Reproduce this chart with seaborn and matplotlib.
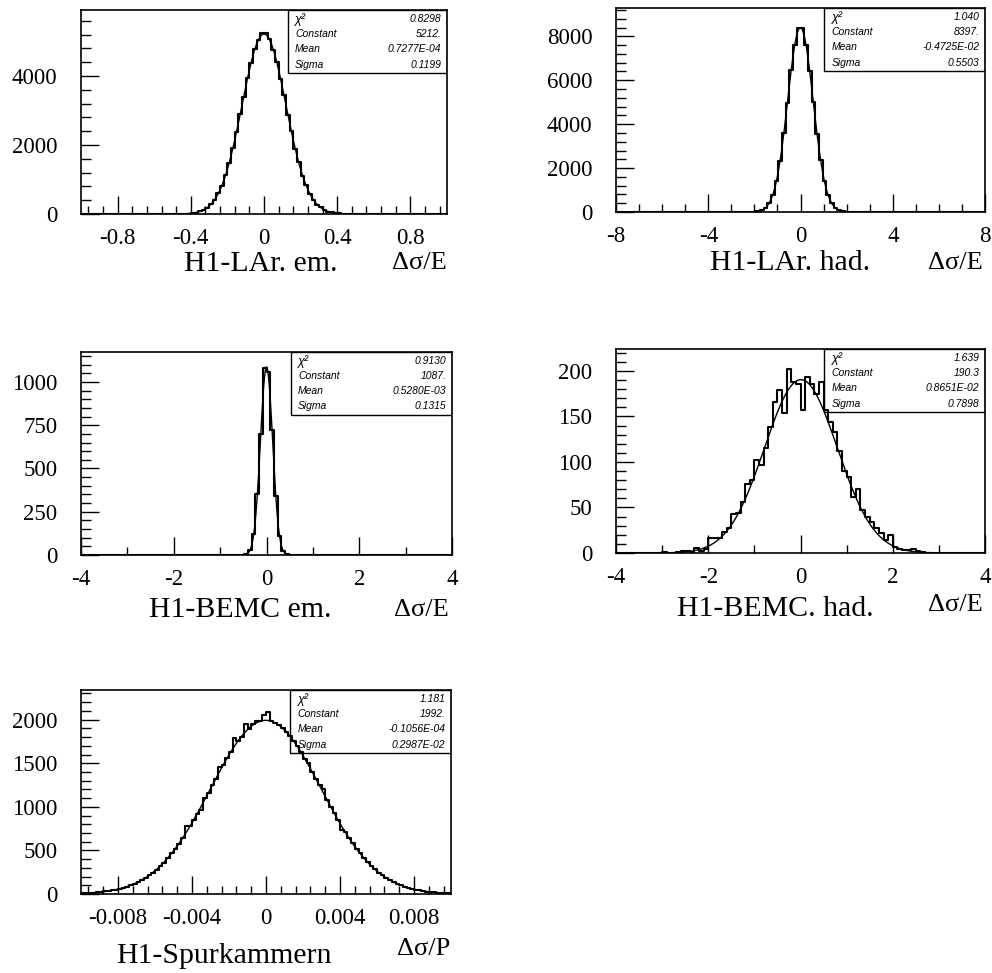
import numpy as np
import pandas as pd
import matplotlib
matplotlib.use("Agg")
import matplotlib.pyplot as plt
import seaborn as sns
from matplotlib.ticker import MultipleLocator, FuncFormatter
from matplotlib.patches import Rectangle

sns.set_theme(style="ticks")
plt.rcParams["font.family"] = ["Liberation Serif", "DejaVu Serif"]
plt.rcParams["axes.unicode_minus"] = False
plt.rcParams["text.color"] = "black"

# ---------------- data: bin contents and fit results ----------------
# H1-LAr. em.: 100 bins on [-1, 1]
lar_em_counts = [0] * 26 + [
    3, 5, 9, 14, 28, 43, 76, 121, 180, 285, 405, 600, 820, 1135, 1470, 1925,
    2370, 2910, 3400, 3950, 4380, 4790, 5040, 5250,
    5230, 5060, 4760, 4410, 3920, 3440, 2880, 2395, 1895, 1500, 1110, 835,
    585, 420, 275, 190, 115, 72, 47, 25, 16, 7, 4, 2] + [0] * 26
lar_em_fit = {"chi2": "0.8298", "Constant": "5212.", "Mean": "0.7277E-04", "Sigma": "0.1199"}
lar_em_par = (5212.0, 0.7277e-04, 0.1199)

# H1-LAr. had.: 100 bins on [-8, 8]
lar_had_counts = [0] * 35 + [
    1, 4, 12, 30, 82, 180, 405, 770, 1420, 2320, 3590, 4980, 6480, 7600, 8380,
    8400, 7620, 6430, 5010, 3550, 2350, 1400, 785, 390, 188, 77, 32, 10, 3, 1] + [0] * 35
lar_had_fit = {"chi2": "1.040", "Constant": "8397.", "Mean": "-0.4725E-02", "Sigma": "0.5503"}
lar_had_par = (8397.0, -0.4725e-02, 0.5503)

# H1-BEMC em.: 100 bins on [-4, 4]
bemc_em_counts = [0] * 43 + [
    1, 4, 28, 120, 350, 700, 1080,
    1060, 720, 340, 110, 25, 3, 1] + [0] * 43
bemc_em_fit = {"chi2": "0.9130", "Constant": "1087.", "Mean": "0.5280E-03", "Sigma": "0.1315"}
bemc_em_par = (1087.0, 0.5280e-03, 0.1315)

# H1-BEMC. had.: 80 bins on [-4, 4]
bemc_had_counts = [0] * 10 + [
    1, 0, 0, 1, 2, 2, 1, 6, 2, 4, 17, 17, 16, 23, 28, 43, 44, 56, 76, 80,
    102, 97, 115, 138, 166, 179, 154, 202, 188, 186,
    157, 193, 186, 175, 188, 157, 144, 133, 112, 90, 84, 62, 70, 47, 40, 34,
    27, 22, 14, 20, 7, 4, 3, 3, 4, 2, 1, 0, 0, 0] + [0] * 10
bemc_had_fit = {"chi2": "1.639", "Constant": "190.3", "Mean": "0.8651E-02", "Sigma": "0.7898"}
bemc_had_par = (190.3, 0.8651e-02, 0.7898)

# H1-Spurkammern: 100 bins on [-0.01, 0.01]
spur_counts = [
    8, 10, 13, 16, 19, 23, 29, 35, 42, 50, 60, 72, 85, 100, 118, 138, 161, 187,
    220, 246, 278, 321, 360, 412, 470, 518, 570, 640, 785, 777, 845, 923, 960,
    1100, 1161, 1250, 1323, 1455, 1475, 1560, 1627, 1785, 1760, 1805, 1945,
    1890, 1945, 1990, 1982, 2048,
    2085, 1985, 1960, 1940, 1900, 1855, 1815, 1750, 1700, 1625, 1550, 1500,
    1400, 1320, 1245, 1210, 1080, 1000, 925, 850, 735, 710, 640, 580, 515, 465,
    410, 368, 320, 283, 245, 216, 186, 162, 137, 119, 100, 86, 71, 61, 50, 41,
    35, 28, 24, 19, 15, 13, 10, 8]
spur_fit = {"chi2": "1.181", "Constant": "1992.", "Mean": "-0.1056E-04", "Sigma": "0.2987E-02"}
spur_par = (1992.0, -0.1056e-04, 0.2987e-02)

panel_names = ["H1-LAr. em.", "H1-LAr. had.", "H1-BEMC em.", "H1-BEMC. had.", "H1-Spurkammern"]
panel_units = ["\u0394\u03c3/E", "\u0394\u03c3/E", "\u0394\u03c3/E", "\u0394\u03c3/E", "\u0394\u03c3/P"]

# ---------------- layout / axis settings ----------------
W, H = 992, 973
panels = [
    dict(counts=lar_em_counts, fit=lar_em_fit, par=lar_em_par, lo=-1.0, hi=1.0, ytop=5910,
         box=(81, 10, 447, 214), xmaj=0.4, xmin=0.08, ymaj=2000, ymin=400,
         name_xy=(0.49, -0.28), unit_xy=(1.0, -0.272)),
    dict(counts=lar_had_counts, fit=lar_had_fit, par=lar_had_par, lo=-8.0, hi=8.0, ytop=9290,
         box=(616, 8, 985, 212), xmaj=4, xmin=1, ymaj=2000, ymin=400,
         name_xy=(0.472, -0.285), unit_xy=(0.995, -0.28)),
    dict(counts=bemc_em_counts, fit=bemc_em_fit, par=bemc_em_par, lo=-4.0, hi=4.0, ytop=1173,
         box=(81, 352, 452, 555), xmaj=2, xmin=1, ymaj=250, ymin=50,
         name_xy=(0.43, -0.305), unit_xy=(0.99, -0.30)),
    dict(counts=bemc_had_counts, fit=bemc_had_fit, par=bemc_had_par, lo=-4.0, hi=4.0, ytop=224,
         box=(616, 349, 985, 553), xmaj=2, xmin=1, ymaj=50, ymin=10,
         name_xy=(0.431, -0.31), unit_xy=(0.995, -0.285)),
    dict(counts=spur_counts, fit=spur_fit, par=spur_par, lo=-0.01, hi=0.01, ytop=2340,
         box=(81, 690, 451, 894), xmaj=0.004, xmin=0.0008, ymaj=500, ymin=100,
         name_xy=(0.386, -0.338), unit_xy=(0.997, -0.30)),
]

fig = plt.figure(figsize=(W / 100, H / 100), dpi=100)
fig.patch.set_facecolor("white")

stat_rows = [("\u03c7\u00b2", "chi2"), ("Constant", "Constant"), ("Mean", "Mean"), ("Sigma", "Sigma")]
stat_y = [0.955, 0.883, 0.808, 0.732]
stat_font = ["Liberation Sans", "DejaVu Sans"]

for p, name, unit in zip(panels, panel_names, panel_units):
    x0, y0, x1, y1 = p["box"]
    ax = fig.add_axes([x0 / W, 1 - y1 / H, (x1 - x0) / W, (y1 - y0) / H])
    ax.set_facecolor("white")

    counts = np.asarray(p["counts"], dtype=float)
    edges = np.linspace(p["lo"], p["hi"], len(counts) + 1)
    hist_df = pd.DataFrame({"center": 0.5 * (edges[:-1] + edges[1:]), "count": counts})
    sns.histplot(data=hist_df, x="center", weights="count", bins=list(edges),
                 element="step", fill=False, color="black", linewidth=1.5, ax=ax)

    const, mean, sigma = p["par"]
    xs = np.linspace(p["lo"], p["hi"], 800)
    fit_df = pd.DataFrame({"x": xs, "y": const * np.exp(-0.5 * ((xs - mean) / sigma) ** 2)})
    sns.lineplot(data=fit_df, x="x", y="y", color="black", linewidth=1.0, ax=ax)

    ax.set_xlim(p["lo"], p["hi"])
    ax.set_ylim(0, p["ytop"])
    ax.set_xlabel("")
    ax.set_ylabel("")

    ax.xaxis.set_major_locator(MultipleLocator(p["xmaj"]))
    ax.xaxis.set_minor_locator(MultipleLocator(p["xmin"]))
    ax.yaxis.set_major_locator(MultipleLocator(p["ymaj"]))
    ax.yaxis.set_minor_locator(MultipleLocator(p["ymin"]))
    fmt = FuncFormatter(lambda v, pos: "%g" % (round(v, 6) + 0.0))
    ax.xaxis.set_major_formatter(fmt)
    ax.yaxis.set_major_formatter(fmt)
    ax.tick_params(axis="both", which="both", direction="in", top=False, right=False,
                   colors="black", width=1.0)
    ax.tick_params(axis="x", which="major", length=13, pad=10, labelsize=16.5)
    ax.tick_params(axis="x", which="minor", length=6)
    ax.tick_params(axis="y", which="major", length=13, pad=17, labelsize=16.5)
    ax.tick_params(axis="y", which="minor", length=7)
    for s in ax.spines.values():
        s.set_visible(True)
        s.set_color("black")
        s.set_linewidth(1.2)

    # fit statistics box
    ax.add_patch(Rectangle((0.565, 0.69), 0.435, 0.31, transform=ax.transAxes,
                           fill=False, edgecolor="black", linewidth=1.0, zorder=5))
    for (lab, key), ty in zip(stat_rows, stat_y):
        ax.text(0.585, ty, lab, transform=ax.transAxes,
                fontsize=9 if key == "chi2" else 7.5, style="italic",
                family=stat_font, va="center", ha="left", zorder=6)
        ax.text(0.985, ty, p["fit"][key], transform=ax.transAxes, fontsize=7.5, style="italic",
                family=stat_font, va="center", ha="right", zorder=6)

    ax.text(p["name_xy"][0], p["name_xy"][1], name, transform=ax.transAxes,
            fontsize=21.5, ha="center", va="baseline")
    ax.text(p["unit_xy"][0], p["unit_xy"][1], unit, transform=ax.transAxes,
            fontsize=19, ha="right", va="baseline")

fig.savefig("out.png", dpi=100, facecolor="white")
